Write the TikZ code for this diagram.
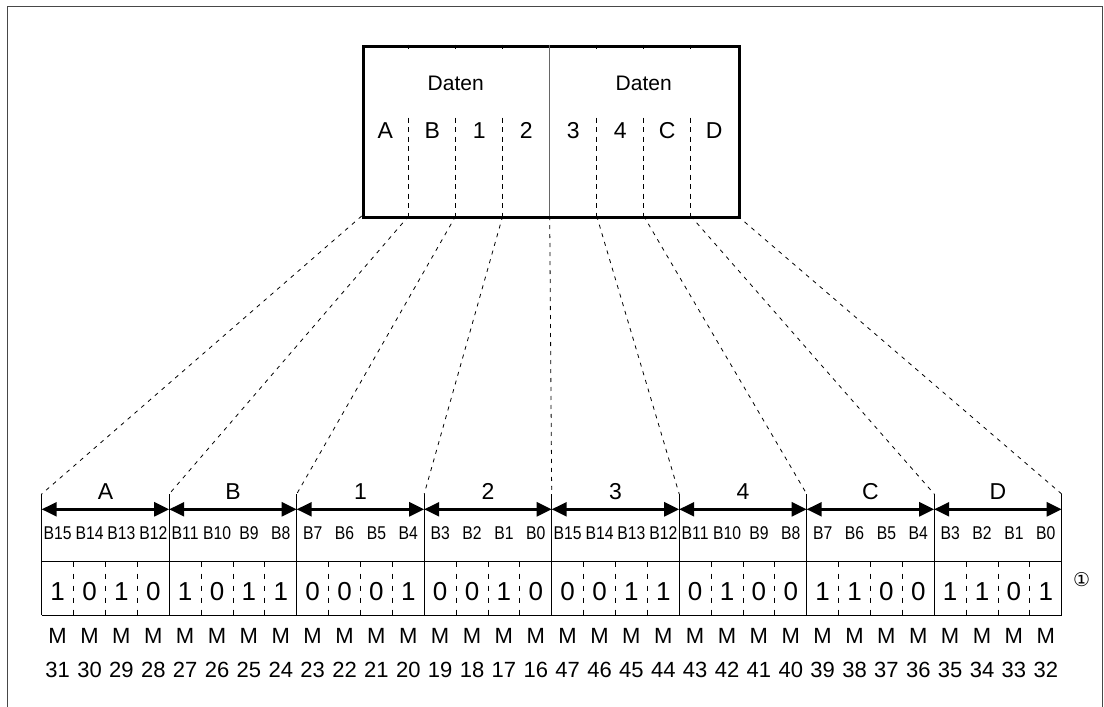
\documentclass[tikz,border=0pt]{standalone}
\usepackage{fontspec}
\setmainfont{Liberation Sans}
\newfontfamily\narrowfont[FakeStretch=0.85]{Liberation Sans}
\newfontfamily\symfont{DejaVu Sans}
\usetikzlibrary{arrows.meta}
\begin{document}
\begin{tikzpicture}[x=1pt,y=-1pt,
  frame/.style={line width=1.6pt, draw=black!72},
  regbox/.style={draw, line width=3pt, inner sep=0pt, minimum width=376pt, minimum height=171.3pt, anchor=north west},
  wordsep/.style={line width=1.3pt, draw=black!60},
  colsep/.style={line width=0.9pt, dash pattern=on 5pt off 4.5pt},
  fan/.style={line width=0.8pt, dash pattern=on 4pt off 5pt},
  span/.style={line width=2.4pt, {Triangle[length=15pt,width=14pt]}-{Triangle[length=15pt,width=14pt]}},
  gridline/.style={line width=1pt},
  bitsep/.style={line width=0.9pt, dash pattern=on 5pt off 7pt},
  txt/.style={inner sep=0pt, text depth=0pt},
  daten/.style={txt, font=\fontsize{21}{25}\selectfont, text height=15pt},
  letter/.style={txt, font=\fontsize{23}{27}\selectfont, text height=16.5pt},
  bitname/.style={txt, font=\narrowfont\fontsize{18.5}{22}\selectfont, text height=13.2pt},
  bitval/.style={txt, font=\fontsize{26}{30}\selectfont, text height=18.6pt},
  addr/.style={txt, font=\fontsize{22}{26}\selectfont, text height=15.8pt},
  note/.style={inner sep=0pt, font=\symfont\fontsize{19}{22}\selectfont}
]
\useasboundingbox (0,0) rectangle (1104,707);

% open outer frame
\draw[frame] (7.5,707) -- (7.5,6.5) -- (1102.5,6.5) -- (1102.5,707);

% two-word register
\node[regbox] (reg) at (361.7,44.7) {};
\foreach \k in {0,...,8}{
  \coordinate (t\k) at (361.7+47*\k,216);
  \coordinate (tt\k) at (361.7+47*\k,44.7);
  \coordinate (tk\k) at (361.7+47*\k,48.5);
  \coordinate (tm\k) at (361.7+47*\k,117.5);
}
% byte separators: a short tick at the top, broken around the captions
\foreach \k in {1,2,3,5,6,7}{
  \draw[line width=0.9pt] (tt\k) -- (tk\k);
  \draw[colsep] (tm\k) -- (t\k);
}
\draw[wordsep] (tt4) -- (t4);
\node[daten] (d1) at (455.7,82.5) {Daten};
\node[daten] (d2) at (643.7,82.5) {Daten};
\foreach \c [count=\i from 0] in {A,B,1,2,3,4,C,D}{
  \node[letter] (rl\i) at (385.2+47*\i,130) {\c};
}

% bit table
\foreach \k in {0,...,8}{
  \coordinate (g\k) at (41.7+127.5*\k,494);
  \coordinate (gb\k) at (41.7+127.5*\k,615);
  \coordinate (a\k) at (41.7+127.5*\k,509.3);
  \coordinate (gm\k) at (41.7+127.5*\k,561.7);
  \draw[gridline] (g\k) -- (gb\k);
}
\draw[gridline] (gm0) -- (gm8);
\draw[gridline] (gb0) -- (gb8);

% byte spans with their labels
\foreach \c [count=\i from 0] in {A,B,1,2,3,4,C,D}{
  \pgfmathtruncatemacro{\n}{\i+1}
  \draw[span] (a\i) -- (a\n);
  \node[letter] (gl\i) at (105.45+127.5*\i,491.3) {\c};
}

% fan from register columns to byte spans
\foreach \k in {0,...,8}{
  \draw[fan] (t\k) -- (g\k);
}

% bit names, values and addresses
\foreach \v [count=\j from 0] in {1,0,1,0,1,0,1,1,0,0,0,1,0,0,1,0,0,0,1,1,0,1,0,0,1,1,0,0,1,1,0,1}{
  \pgfmathtruncatemacro{\b}{15-mod(\j,16)}
  \pgfmathtruncatemacro{\m}{\j<16 ? 31-\j : 63-\j}
  \pgfmathsetmacro{\xc}{41.7+31.875*(\j+0.5)}
  \node[bitname] (bn\j) at (\xc,533.3) {B\b};
  \node[bitval] (bv\j) at (\xc,591) {\v};
  \node[addr] (ma\j) at (\xc,635.3) {M};
  \node[addr] (mn\j) at (\xc,669.5) {\m};
  \pgfmathtruncatemacro{\r}{mod(\j,4)}
  \ifnum\r>0
    \coordinate (s\j) at (41.7+31.875*\j,561.7);
    \coordinate (e\j) at (41.7+31.875*\j,615);
    \draw[bitsep] (s\j) -- (e\j);
  \fi
}

\node[note] (n1) at (1081.7,580) {①};
\end{tikzpicture}
\end{document}
